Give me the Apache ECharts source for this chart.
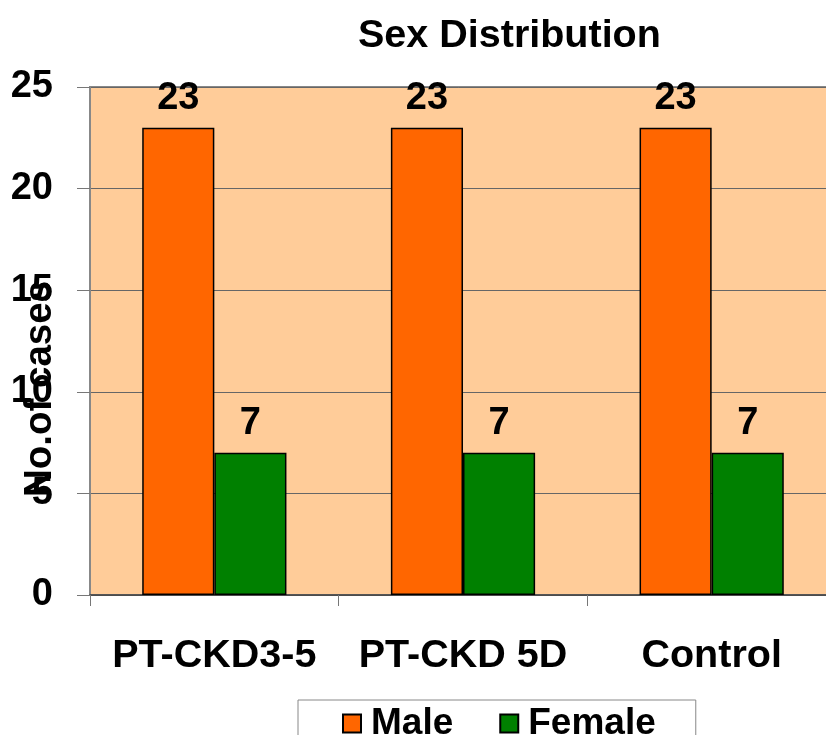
<!DOCTYPE html>
<html>
<head>
<meta charset="utf-8">
<script src="https://cdn.jsdelivr.net/npm/echarts@6/dist/echarts.min.js"></script>
<style>
  html, body { margin: 0; padding: 0; background: #ffffff; }
  #chart { width: 826px; height: 735px; }
</style>
</head>
<body>
<div id="chart"></div>
<script>
// Group names along the category axis
const groups = ['PT-CKD3-5', 'PT-CKD 5D', 'Control'];
// Number of cases per group
const maleCases = [23, 23, 23];
const femaleCases = [7, 7, 7];
// Value axis ticks
const yTicks = [0, 5, 10, 15, 20, 25];

const FONT = '"Liberation Sans", Arial, sans-serif';

const chart = echarts.init(document.getElementById('chart'), null, { renderer: 'canvas' });

chart.setOption({
  backgroundColor: '#ffffff',
  animation: false,
  title: {
    text: 'Sex Distribution',
    left: 353,
    top: 11,
    textStyle: { fontFamily: FONT, fontWeight: 'bold', fontSize: 39.5, color: '#000' }
  },
  legend: {
    data: ['Male', 'Female'],
    left: 298,
    top: 700,
    padding: [5, 40, 10, 44],
    borderColor: '#888',
    borderWidth: 1,
    backgroundColor: '#fff',
    itemWidth: 18,
    itemHeight: 18,
    itemGap: 46,
    icon: 'rect',
    textStyle: { fontFamily: FONT, fontWeight: 'bold', fontSize: 37, color: '#000', padding: [0, 0, 0, 5] }
  },
  grid: {
    left: 90,
    top: 87,
    width: 746,
    height: 508,
    show: true,
    backgroundColor: '#FFCC99',
    borderColor: '#888',
    borderWidth: 2,
    containLabel: false,
    outerBoundsMode: 'none'
  },
  xAxis: {
    type: 'category',
    data: groups,
    axisLine: { show: true, lineStyle: { color: '#444', width: 1.5 } },
    axisTick: { show: true, length: 11, lineStyle: { color: '#777', width: 1 } },
    axisLabel: { interval: 0, margin: 41, fontFamily: FONT, fontWeight: 'bold', fontSize: 39.5, color: '#000' }
  },
  yAxis: {
    type: 'value',
    min: yTicks[0],
    max: yTicks[yTicks.length - 1],
    interval: 5,
    name: 'No.of cases',
    nameLocation: 'middle',
    nameRotate: 90,
    nameGap: 30,
    nameMoveOverlap: false,
    nameTextStyle: { fontFamily: FONT, fontWeight: 'bold', fontSize: 38.5, color: '#000', padding: [0, 96, 0, 0] },
    axisLine: { show: true, lineStyle: { color: '#888', width: 2 } },
    axisTick: { show: true, length: 13, lineStyle: { color: '#777', width: 1 } },
    axisLabel: { margin: 37, fontFamily: FONT, fontWeight: 'bold', fontSize: 38, color: '#000' },
    splitLine: { show: true, lineStyle: { color: '#666', width: 1 } }
  },
  series: [
    {
      name: 'Male',
      type: 'bar',
      data: maleCases,
      barGap: '0%',
      barCategoryGap: '42%',
      itemStyle: { color: '#FF6600', borderColor: '#000', borderWidth: 1.5 },
      label: { show: true, position: 'top', distance: 10, fontFamily: FONT, fontWeight: 'bold', fontSize: 38, color: '#000' }
    },
    {
      name: 'Female',
      type: 'bar',
      data: femaleCases,
      itemStyle: { color: '#008000', borderColor: '#000', borderWidth: 1.5 },
      label: { show: true, position: 'top', distance: 10, fontFamily: FONT, fontWeight: 'bold', fontSize: 38, color: '#000' }
    }
  ]
});
</script>
</body>
</html>
